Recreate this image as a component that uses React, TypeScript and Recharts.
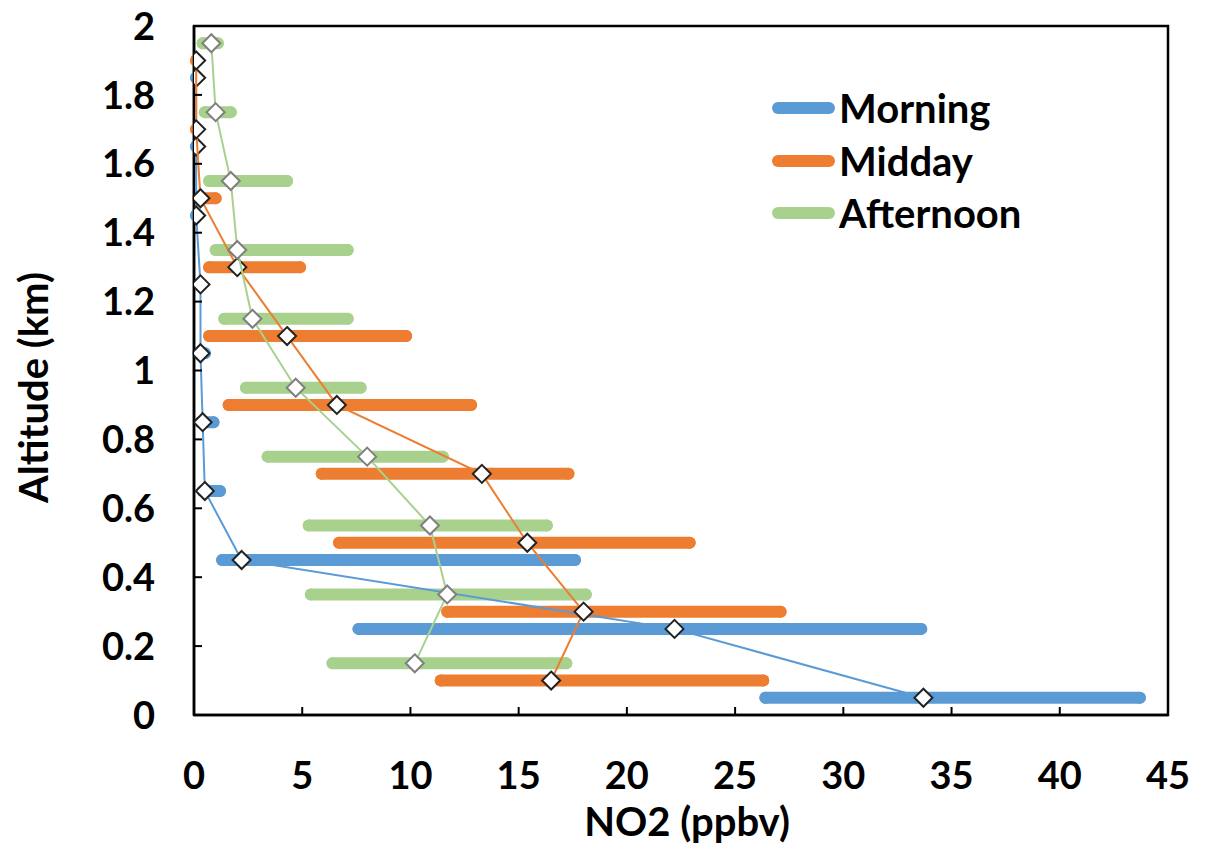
import React from "react";
import { ScatterChart, Scatter, XAxis, YAxis, ErrorBar, ReferenceArea } from "recharts";

// ---- data ----
const xTicks = [0, 5, 10, 15, 20, 25, 30, 35, 40, 45];
const yTicks = [0, 0.2, 0.4, 0.6, 0.8, 1, 1.2, 1.4, 1.6, 1.8, 2];

const morningAlt = [0.05, 0.25, 0.45, 0.65, 0.85, 1.05, 1.25, 1.45, 1.65, 1.85];
const morningNo2 = [33.7, 22.2, 2.2, 0.5, 0.4, 0.3, 0.3, 0.1, 0.1, 0.1];
const morningLo = [26.4, 7.6, 1.3, 0.4, 0.3, 0.2, 0.3, 0.1, 0.1, 0.1];
const morningHi = [43.7, 33.6, 17.6, 1.2, 0.9, 0.5, 0.3, 0.1, 0.1, 0.1];

const middayAlt = [0.1, 0.3, 0.5, 0.7, 0.9, 1.1, 1.3, 1.5, 1.7, 1.9];
const middayNo2 = [16.5, 18.0, 15.4, 13.3, 6.6, 4.3, 2.0, 0.3, 0.1, 0.1];
const middayLo = [11.4, 11.7, 6.7, 5.9, 1.6, 0.7, 0.7, 0.2, 0.1, 0.1];
const middayHi = [26.3, 27.1, 22.9, 17.3, 12.8, 9.8, 4.9, 1.0, 0.1, 0.1];

const afternoonAlt = [0.15, 0.35, 0.55, 0.75, 0.95, 1.15, 1.35, 1.55, 1.75, 1.95];
const afternoonNo2 = [10.2, 11.7, 10.9, 8.0, 4.7, 2.7, 2.0, 1.7, 1.0, 0.8];
const afternoonLo = [6.4, 5.4, 5.3, 3.4, 2.4, 1.4, 1.0, 0.7, 0.5, 0.4];
const afternoonHi = [17.2, 18.1, 16.3, 11.5, 7.7, 7.1, 7.1, 4.3, 1.7, 1.1];

const seriesNames = ["Morning", "Midday", "Afternoon"];
const seriesColors = ["#5B9BD5", "#ED7D31", "#A9D18E"];
const markerStrokes = ["#222", "#222", "#7f7f7f"];

const build = (alt: number[], v: number[], lo: number[], hi: number[]) =>
  alt.map((a, i) => ({ alt: a, no2: v[i], err: [Math.max(0, v[i] - lo[i]), Math.max(0, hi[i] - v[i])] }));

const seriesData = [
  build(morningAlt, morningNo2, morningLo, morningHi),
  build(middayAlt, middayNo2, middayLo, middayHi),
  build(afternoonAlt, afternoonNo2, afternoonLo, afternoonHi),
];

// ---- styling ----
const FONT = "Lato, 'Open Sans', sans-serif";
const TICK_FS = 38;
const X_MARGIN = 47;
const Y_MARGIN = 39;
const TICK_LEN = 8;

const XTick = (props: any) => {
  const { x, y, payload } = props;
  const axisY = y - X_MARGIN;
  return (
    <g>
      <line x1={x} x2={x} y1={axisY} y2={axisY - TICK_LEN} stroke="#000" strokeWidth={2} />
      <text x={x} y={y} dy="0.71em" textAnchor="middle" fontFamily={FONT} fontWeight={700} fontSize={TICK_FS} fill="#000">
        {payload.value}
      </text>
    </g>
  );
};

const YTick = (props: any) => {
  const { x, y, payload } = props;
  const axisX = x + Y_MARGIN;
  return (
    <g>
      {payload.value !== 2 && payload.value !== 0 && (
        <line x1={axisX} x2={axisX + TICK_LEN} y1={y} y2={y} stroke="#000" strokeWidth={2} />
      )}
      <text x={x} y={y} dy="0.36em" textAnchor="end" fontFamily={FONT} fontWeight={700} fontSize={TICK_FS} fill="#000">
        {payload.value}
      </text>
    </g>
  );
};

const XLabel = (props: any) => {
  const vb = props.viewBox || {};
  return (
    <text x={vb.x + vb.width / 2 + 6} y={vb.y + 121} textAnchor="middle" fontFamily={FONT} fontWeight={700} fontSize={40} fill="#000">
      NO2 (ppbv)
    </text>
  );
};

const YLabel = (props: any) => {
  const vb = props.viewBox || {};
  const cx = 40;
  const cy = vb.y + vb.height / 2 + 17;
  return (
    <text x={cx} y={cy} transform={`rotate(-90, ${cx}, ${cy})`} textAnchor="middle" fontFamily={FONT} fontWeight={700} fontSize={40} fill="#000">
      Altitude (km)
    </text>
  );
};

const makeDiamond = (stroke: string) => (props: any) => {
  const { cx, cy } = props;
  const r = 9;
  return (
    <polygon
      points={`${cx},${cy - r} ${cx + r},${cy} ${cx},${cy + r} ${cx - r},${cy}`}
      fill="#fff"
      stroke={stroke}
      strokeWidth={2}
    />
  );
};

const LegendBox = () => (
  <div style={{ position: "absolute", left: 764, top: 82, fontFamily: FONT, fontWeight: 700, fontSize: 40 }}>
    {seriesNames.map((n, i) => (
      <div key={n} style={{ display: "flex", alignItems: "center", height: 52.5 }}>
        <svg width={64} height={20} style={{ display: "block" }}>
          <line x1={6} x2={57} y1={10} y2={10} stroke={seriesColors[i]} strokeWidth={12} strokeLinecap="round" />
        </svg>
        <span style={{ marginLeft: 3, lineHeight: 1 }}>{n}</span>
      </div>
    ))}
  </div>
);

export default function App() {
  return (
    <div style={{ position: "relative", width: 1205, height: 845, marginTop: -8 }}>
      <ScatterChart width={1205} height={845} margin={{ top: 26, right: 45, left: 0, bottom: 0 }}>
        <XAxis
          type="number"
          dataKey="no2"
          domain={[0, 45]}
          ticks={xTicks}
          interval={0}
          height={130}
          tickSize={0}
          tickMargin={X_MARGIN}
          tick={<XTick />}
          axisLine={{ stroke: "#000", strokeWidth: 2.5 }}
          allowDataOverflow
          label={<XLabel />}
        />
        <YAxis
          type="number"
          dataKey="alt"
          domain={[0, 2]}
          ticks={yTicks}
          interval={0}
          width={186}
          tickSize={0}
          tickMargin={Y_MARGIN}
          tick={<YTick />}
          axisLine={{ stroke: "#000", strokeWidth: 2.5 }}
          allowDataOverflow
          label={<YLabel />}
        />
        <ReferenceArea x1={0} x2={45} y1={0} y2={2} fill="none" stroke="#000" strokeWidth={2.5} ifOverflow="visible" />
        {seriesData.map((d, i) => (
          <Scatter
            key={seriesNames[i]}
            name={seriesNames[i]}
            data={d}
            fill={seriesColors[i]}
            line={{ stroke: seriesColors[i], strokeWidth: 2 }}
            lineType="joint"
            shape={makeDiamond(markerStrokes[i])}
            isAnimationActive={false}
          >
            <ErrorBar
              dataKey="err"
              direction="x"
              width={0}
              stroke={seriesColors[i]}
              strokeWidth={12}
              strokeLinecap="round"
              isAnimationActive={false}
            />
          </Scatter>
        ))}
      </ScatterChart>
      <LegendBox />
    </div>
  );
}
